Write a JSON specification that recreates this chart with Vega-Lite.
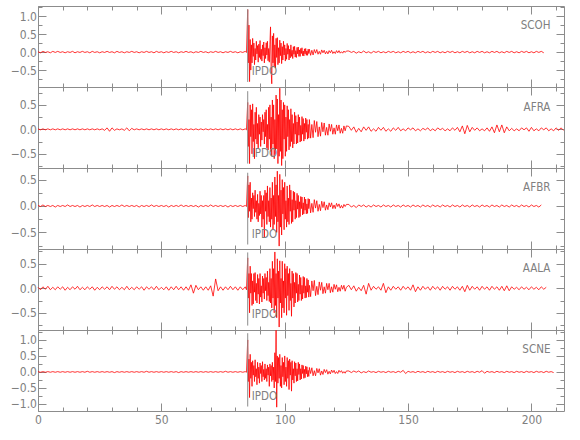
{
"$schema":"https://vega.github.io/schema/vega-lite/v6.json",
"autosize":{"type":"pad"},
"padding":0,
"background":"white",
"spacing":0,
"bounds":"flush",
"datasets":{
"picks":[{"phase":"IPDO","t":85}],
"traces":[
{"t":0,"SCOH":0.01,"AFRA":0.01,"AFBR":0.01,"AALA":0.02,"SCNE":0.01},
{"t":1,"SCOH":-0.02,"AFRA":-0.01,"AFBR":-0.01,"AALA":-0.03,"SCNE":-0.01},
{"t":2,"SCOH":0.02,"AFRA":0.01,"AFBR":0.02,"AALA":0.03,"SCNE":0.01},
{"t":3,"SCOH":-0.01,"AFRA":-0.01,"AFBR":-0.01,"AALA":-0.02,"SCNE":-0.01},
{"t":4,"SCOH":0.01,"AFRA":0.01,"AFBR":0.01,"AALA":0.04,"SCNE":0.01},
{"t":5,"SCOH":-0.02,"AFRA":-0.01,"AFBR":-0.01,"AALA":-0.03,"SCNE":-0.01},
{"t":6,"SCOH":0.02,"AFRA":0.01,"AFBR":0.01,"AALA":0.02,"SCNE":0.01},
{"t":7,"SCOH":-0.01,"AFRA":-0.01,"AFBR":-0.02,"AALA":-0.03,"SCNE":-0.01},
{"t":8,"SCOH":0.02,"AFRA":0.01,"AFBR":0.01,"AALA":0.03,"SCNE":0.01},
{"t":9,"SCOH":-0.01,"AFRA":-0.01,"AFBR":-0.01,"AALA":-0.02,"SCNE":-0.01},
{"t":10,"SCOH":0.01,"AFRA":0.01,"AFBR":0.01,"AALA":0.03,"SCNE":0.01},
{"t":11,"SCOH":-0.02,"AFRA":-0.01,"AFBR":-0.01,"AALA":-0.04,"SCNE":-0.01},
{"t":12,"SCOH":0.01,"AFRA":0.01,"AFBR":0.02,"AALA":0.02,"SCNE":0.01},
{"t":13,"SCOH":-0.01,"AFRA":-0.01,"AFBR":-0.01,"AALA":-0.03,"SCNE":-0.01},
{"t":14,"SCOH":0.02,"AFRA":0.01,"AFBR":0.01,"AALA":0.03,"SCNE":0.01},
{"t":15,"SCOH":-0.02,"AFRA":-0.01,"AFBR":-0.01,"AALA":-0.02,"SCNE":-0.01},
{"t":16,"SCOH":0.01,"AFRA":0.01,"AFBR":0.01,"AALA":0.04,"SCNE":0.01},
{"t":17,"SCOH":-0.01,"AFRA":-0.01,"AFBR":-0.02,"AALA":-0.03,"SCNE":-0.01},
{"t":18,"SCOH":0.02,"AFRA":0.01,"AFBR":0.01,"AALA":0.02,"SCNE":0.01},
{"t":19,"SCOH":-0.01,"AFRA":-0.01,"AFBR":-0.01,"AALA":-0.03,"SCNE":-0.01},
{"t":20,"SCOH":0.01,"AFRA":0.01,"AFBR":0.01,"AALA":0.03,"SCNE":0.02},
{"t":21,"SCOH":-0.02,"AFRA":-0.01,"AFBR":-0.01,"AALA":-0.02,"SCNE":-0.01},
{"t":22,"SCOH":0.02,"AFRA":0.01,"AFBR":0.02,"AALA":0.03,"SCNE":0.01},
{"t":23,"SCOH":-0.01,"AFRA":-0.01,"AFBR":-0.01,"AALA":-0.04,"SCNE":-0.01},
{"t":24,"SCOH":0.01,"AFRA":0.01,"AFBR":0.01,"AALA":0.02,"SCNE":0.01},
{"t":25,"SCOH":-0.02,"AFRA":-0.01,"AFBR":-0.01,"AALA":-0.03,"SCNE":-0.01},
{"t":26,"SCOH":0.01,"AFRA":0.01,"AFBR":0.01,"AALA":0.03,"SCNE":0.01},
{"t":27,"SCOH":-0.01,"AFRA":-0.02,"AFBR":-0.01,"AALA":-0.02,"SCNE":-0.01},
{"t":28,"SCOH":0.02,"AFRA":0.03,"AFBR":0.01,"AALA":0.03,"SCNE":0.01},
{"t":29,"SCOH":-0.01,"AFRA":-0.04,"AFBR":-0.02,"AALA":-0.03,"SCNE":-0.01},
{"t":30,"SCOH":0.01,"AFRA":0.03,"AFBR":0.01,"AALA":0.04,"SCNE":0.01},
{"t":31,"SCOH":-0.02,"AFRA":-0.02,"AFBR":-0.01,"AALA":-0.02,"SCNE":-0.02},
{"t":32,"SCOH":0.02,"AFRA":0.01,"AFBR":0.01,"AALA":0.03,"SCNE":0.01},
{"t":33,"SCOH":-0.01,"AFRA":-0.01,"AFBR":-0.01,"AALA":-0.03,"SCNE":-0.01},
{"t":34,"SCOH":0.01,"AFRA":0.01,"AFBR":0.02,"AALA":0.02,"SCNE":0.01},
{"t":35,"SCOH":-0.02,"AFRA":-0.02,"AFBR":-0.01,"AALA":-0.03,"SCNE":-0.01},
{"t":36,"SCOH":0.01,"AFRA":0.03,"AFBR":0.01,"AALA":0.04,"SCNE":0.01},
{"t":37,"SCOH":-0.01,"AFRA":-0.03,"AFBR":-0.01,"AALA":-0.03,"SCNE":-0.01},
{"t":38,"SCOH":0.02,"AFRA":0.02,"AFBR":0.01,"AALA":0.02,"SCNE":0.01},
{"t":39,"SCOH":-0.01,"AFRA":-0.01,"AFBR":-0.01,"AALA":-0.03,"SCNE":-0.01},
{"t":40,"SCOH":0.01,"AFRA":0.01,"AFBR":0.01,"AALA":0.03,"SCNE":0.01},
{"t":41,"SCOH":-0.02,"AFRA":-0.01,"AFBR":-0.02,"AALA":-0.02,"SCNE":-0.01},
{"t":42,"SCOH":0.01,"AFRA":0.01,"AFBR":0.01,"AALA":0.03,"SCNE":0.01},
{"t":43,"SCOH":-0.01,"AFRA":-0.01,"AFBR":-0.01,"AALA":-0.04,"SCNE":-0.01},
{"t":44,"SCOH":0.02,"AFRA":0.01,"AFBR":0.01,"AALA":0.03,"SCNE":0.02},
{"t":45,"SCOH":-0.01,"AFRA":-0.01,"AFBR":-0.01,"AALA":-0.02,"SCNE":-0.01},
{"t":46,"SCOH":0.01,"AFRA":0.01,"AFBR":0.02,"AALA":0.03,"SCNE":0.01},
{"t":47,"SCOH":-0.02,"AFRA":-0.01,"AFBR":-0.01,"AALA":-0.03,"SCNE":-0.01},
{"t":48,"SCOH":0.02,"AFRA":0.01,"AFBR":0.01,"AALA":0.04,"SCNE":0.01},
{"t":49,"SCOH":-0.01,"AFRA":-0.01,"AFBR":-0.01,"AALA":-0.03,"SCNE":-0.01},
{"t":50,"SCOH":0.01,"AFRA":0.01,"AFBR":0.01,"AALA":0.02,"SCNE":0.01},
{"t":51,"SCOH":-0.02,"AFRA":-0.01,"AFBR":-0.01,"AALA":-0.03,"SCNE":-0.01},
{"t":52,"SCOH":0.01,"AFRA":0.01,"AFBR":0.01,"AALA":0.03,"SCNE":0.01},
{"t":53,"SCOH":-0.01,"AFRA":-0.01,"AFBR":-0.02,"AALA":-0.04,"SCNE":-0.01},
{"t":54,"SCOH":0.02,"AFRA":0.01,"AFBR":0.01,"AALA":0.03,"SCNE":0.01},
{"t":55,"SCOH":-0.01,"AFRA":-0.01,"AFBR":-0.01,"AALA":-0.03,"SCNE":-0.01},
{"t":56,"SCOH":0.01,"AFRA":0.01,"AFBR":0.01,"AALA":0.04,"SCNE":0.01},
{"t":57,"SCOH":-0.02,"AFRA":-0.01,"AFBR":-0.01,"AALA":-0.03,"SCNE":-0.02},
{"t":58,"SCOH":0.01,"AFRA":0.01,"AFBR":0.02,"AALA":0.03,"SCNE":0.01},
{"t":59,"SCOH":-0.01,"AFRA":-0.01,"AFBR":-0.01,"AALA":-0.04,"SCNE":-0.01},
{"t":60,"SCOH":0.02,"AFRA":0.01,"AFBR":0.01,"AALA":0.03,"SCNE":0.01},
{"t":61,"SCOH":-0.01,"AFRA":-0.01,"AFBR":-0.01,"AALA":-0.04,"SCNE":-0.01},
{"t":62,"SCOH":0.01,"AFRA":0.01,"AFBR":0.01,"AALA":0.07,"SCNE":0.01},
{"t":63,"SCOH":-0.02,"AFRA":-0.01,"AFBR":-0.01,"AALA":-0.1,"SCNE":-0.01},
{"t":64,"SCOH":0.01,"AFRA":0.01,"AFBR":0.01,"AALA":0.06,"SCNE":0.01},
{"t":65,"SCOH":-0.01,"AFRA":-0.01,"AFBR":-0.02,"AALA":-0.03,"SCNE":-0.01},
{"t":66,"SCOH":0.02,"AFRA":0.01,"AFBR":0.01,"AALA":0.03,"SCNE":0.01},
{"t":67,"SCOH":-0.01,"AFRA":-0.01,"AFBR":-0.01,"AALA":-0.04,"SCNE":-0.01},
{"t":68,"SCOH":0.01,"AFRA":0.01,"AFBR":0.01,"AALA":0.03,"SCNE":0.01},
{"t":69,"SCOH":-0.02,"AFRA":-0.01,"AFBR":-0.01,"AALA":-0.04,"SCNE":-0.01},
{"t":70,"SCOH":0.01,"AFRA":0.01,"AFBR":0.02,"AALA":0.05,"SCNE":0.01},
{"t":71,"SCOH":-0.01,"AFRA":-0.01,"AFBR":-0.01,"AALA":-0.16,"SCNE":-0.01},
{"t":72,"SCOH":0.02,"AFRA":0.01,"AFBR":0.01,"AALA":0.19,"SCNE":0.01},
{"t":73,"SCOH":-0.01,"AFRA":-0.01,"AFBR":-0.01,"AALA":-0.05,"SCNE":-0.01},
{"t":74,"SCOH":0.01,"AFRA":0.01,"AFBR":0.01,"AALA":0.03,"SCNE":0.01},
{"t":75,"SCOH":-0.02,"AFRA":-0.01,"AFBR":-0.01,"AALA":-0.04,"SCNE":-0.01},
{"t":76,"SCOH":0.01,"AFRA":0.01,"AFBR":0.01,"AALA":0.03,"SCNE":0.02},
{"t":77,"SCOH":-0.01,"AFRA":-0.01,"AFBR":-0.02,"AALA":-0.03,"SCNE":-0.01},
{"t":78,"SCOH":0.02,"AFRA":0.01,"AFBR":0.01,"AALA":0.04,"SCNE":0.01},
{"t":79,"SCOH":-0.01,"AFRA":-0.01,"AFBR":-0.01,"AALA":-0.03,"SCNE":-0.01},
{"t":80,"SCOH":0.01,"AFRA":0.01,"AFBR":0.01,"AALA":0.03,"SCNE":0.01},
{"t":81,"SCOH":-0.02,"AFRA":-0.01,"AFBR":-0.01,"AALA":-0.04,"SCNE":-0.01},
{"t":82,"SCOH":0.01,"AFRA":0.01,"AFBR":0.01,"AALA":0.03,"SCNE":0.01},
{"t":83,"SCOH":-0.01,"AFRA":-0.01,"AFBR":-0.01,"AALA":-0.03,"SCNE":-0.01},
{"t":84,"SCOH":0.02,"AFRA":0.01,"AFBR":0.01,"AALA":0.03,"SCNE":0.01},
{"t":84.5,"SCOH":-0.01,"AFRA":-0.01,"AFBR":-0.01,"AALA":-0.03,"SCNE":-0.01},
{"t":85,"SCOH":1.18,"AFRA":0.55,"AFBR":0.57,"AALA":0.62,"SCNE":1.0},
{"t":85.25,"SCOH":-0.3,"AFRA":-0.35,"AFBR":-0.22,"AALA":-0.2,"SCNE":-0.3},
{"t":85.5,"SCOH":0.75,"AFRA":0.2,"AFBR":0.4,"AALA":0.3,"SCNE":0.4},
{"t":85.75,"SCOH":-0.82,"AFRA":-0.7,"AFBR":-0.1,"AALA":-0.5,"SCNE":-0.8},
{"t":86,"SCOH":0.35,"AFRA":0.5,"AFBR":0.45,"AALA":0.45,"SCNE":0.55},
{"t":86.25,"SCOH":-0.5,"AFRA":-0.15,"AFBR":-0.3,"AALA":-0.1,"SCNE":-0.2},
{"t":86.5,"SCOH":0.2,"AFRA":0.4,"AFBR":0.15,"AALA":0.3,"SCNE":0.3},
{"t":86.75,"SCOH":-0.3,"AFRA":-0.5,"AFBR":-0.25,"AALA":-0.35,"SCNE":-0.45},
{"t":87,"SCOH":0.38,"AFRA":0.52,"AFBR":0.25,"AALA":0.15,"SCNE":0.35},
{"t":87.25,"SCOH":-0.12,"AFRA":-0.25,"AFBR":-0.05,"AALA":-0.32,"SCNE":-0.1},
{"t":87.5,"SCOH":0.25,"AFRA":0.1,"AFBR":0.2,"AALA":0.3,"SCNE":0.2},
{"t":87.75,"SCOH":-0.35,"AFRA":-0.6,"AFBR":-0.2,"AALA":-0.08,"SCNE":-0.3},
{"t":88,"SCOH":0.1,"AFRA":0.35,"AFBR":0.3,"AALA":0.32,"SCNE":0.38},
{"t":88.25,"SCOH":-0.22,"AFRA":-0.2,"AFBR":-0.12,"AALA":-0.25,"SCNE":-0.15},
{"t":88.5,"SCOH":0.3,"AFRA":0.45,"AFBR":0.1,"AALA":0.1,"SCNE":0.1},
{"t":88.75,"SCOH":-0.05,"AFRA":-0.3,"AFBR":-0.25,"AALA":-0.3,"SCNE":-0.4},
{"t":89,"SCOH":0.18,"AFRA":0.12,"AFBR":0.22,"AALA":0.28,"SCNE":0.3},
{"t":89.25,"SCOH":-0.28,"AFRA":-0.38,"AFBR":-0.3,"AALA":-0.12,"SCNE":-0.2},
{"t":89.5,"SCOH":0.22,"AFRA":0.3,"AFBR":0.05,"AALA":0.2,"SCNE":0.15},
{"t":89.75,"SCOH":-0.15,"AFRA":-0.1,"AFBR":-0.18,"AALA":-0.32,"SCNE":-0.35},
{"t":90,"SCOH":0.32,"AFRA":0.25,"AFBR":0.28,"AALA":0.3,"SCNE":0.28},
{"t":90.25,"SCOH":-0.2,"AFRA":-0.35,"AFBR":-0.15,"AALA":-0.18,"SCNE":-0.05},
{"t":90.5,"SCOH":0.08,"AFRA":0.15,"AFBR":0.2,"AALA":0.05,"SCNE":0.2},
{"t":90.75,"SCOH":-0.25,"AFRA":-0.22,"AFBR":-0.4,"AALA":-0.28,"SCNE":-0.3},
{"t":91,"SCOH":0.2,"AFRA":0.3,"AFBR":0.1,"AALA":0.25,"SCNE":0.32},
{"t":91.25,"SCOH":-0.1,"AFRA":-0.05,"AFBR":-0.25,"AALA":-0.1,"SCNE":-0.15},
{"t":91.5,"SCOH":0.28,"AFRA":0.2,"AFBR":0.2,"AALA":0.2,"SCNE":0.08},
{"t":91.75,"SCOH":-0.3,"AFRA":-0.3,"AFBR":-0.6,"AALA":-0.22,"SCNE":-0.25},
{"t":92,"SCOH":0.12,"AFRA":0.35,"AFBR":0.3,"AALA":0.3,"SCNE":0.25},
{"t":92.25,"SCOH":-0.18,"AFRA":-0.15,"AFBR":-0.1,"AALA":-0.05,"SCNE":-0.2},
{"t":92.5,"SCOH":0.26,"AFRA":0.4,"AFBR":0.25,"AALA":0.22,"SCNE":0.1},
{"t":92.75,"SCOH":-0.08,"AFRA":-0.38,"AFBR":-0.35,"AALA":-0.25,"SCNE":-0.3},
{"t":93,"SCOH":0.3,"AFRA":0.1,"AFBR":0.38,"AALA":0.35,"SCNE":0.22},
{"t":93.25,"SCOH":-0.24,"AFRA":-0.42,"AFBR":-0.2,"AALA":-0.15,"SCNE":-0.1},
{"t":93.5,"SCOH":0.1,"AFRA":0.45,"AFBR":0.1,"AALA":0.12,"SCNE":0.15},
{"t":93.75,"SCOH":-0.28,"AFRA":-0.2,"AFBR":-0.3,"AALA":-0.27,"SCNE":-0.45},
{"t":94,"SCOH":0.22,"AFRA":0.5,"AFBR":0.35,"AALA":0.4,"SCNE":0.25},
{"t":94.25,"SCOH":0.7,"AFRA":-0.45,"AFBR":-0.4,"AALA":-0.3,"SCNE":-0.12},
{"t":94.5,"SCOH":-0.5,"AFRA":0.25,"AFBR":0.15,"AALA":0.2,"SCNE":0.2},
{"t":94.75,"SCOH":-0.88,"AFRA":-0.55,"AFBR":-0.25,"AALA":-0.4,"SCNE":-0.3},
{"t":95,"SCOH":0.45,"AFRA":0.6,"AFBR":0.45,"AALA":0.55,"SCNE":0.3},
{"t":95.25,"SCOH":-0.3,"AFRA":-0.3,"AFBR":-0.45,"AALA":-0.2,"SCNE":-0.25},
{"t":95.5,"SCOH":0.52,"AFRA":0.5,"AFBR":0.2,"AALA":0.4,"SCNE":0.15},
{"t":95.75,"SCOH":-0.4,"AFRA":-0.6,"AFBR":-0.35,"AALA":-0.5,"SCNE":-0.5},
{"t":96,"SCOH":0.2,"AFRA":0.2,"AFBR":0.55,"AALA":0.74,"SCNE":0.6},
{"t":96.25,"SCOH":-0.45,"AFRA":-0.5,"AFBR":-0.2,"AALA":-0.35,"SCNE":-0.3},
{"t":96.5,"SCOH":0.38,"AFRA":0.7,"AFBR":0.4,"AALA":0.3,"SCNE":1.3},
{"t":96.75,"SCOH":-0.15,"AFRA":-0.4,"AFBR":-0.5,"AALA":-0.6,"SCNE":-1.1},
{"t":97,"SCOH":0.4,"AFRA":0.62,"AFBR":0.66,"AALA":0.6,"SCNE":0.5},
{"t":97.25,"SCOH":-0.35,"AFRA":-0.7,"AFBR":-0.3,"AALA":-0.2,"SCNE":-0.35},
{"t":97.5,"SCOH":0.12,"AFRA":0.3,"AFBR":0.2,"AALA":0.35,"SCNE":0.45},
{"t":97.75,"SCOH":-0.3,"AFRA":-0.55,"AFBR":-0.76,"AALA":-0.79,"SCNE":-0.2},
{"t":98,"SCOH":0.33,"AFRA":0.84,"AFBR":0.6,"AALA":0.56,"SCNE":0.55},
{"t":98.25,"SCOH":-0.1,"AFRA":-0.45,"AFBR":-0.4,"AALA":-0.3,"SCNE":-0.45},
{"t":98.5,"SCOH":0.25,"AFRA":0.6,"AFBR":0.3,"AALA":0.2,"SCNE":0.2},
{"t":98.75,"SCOH":-0.32,"AFRA":-0.74,"AFBR":-0.55,"AALA":-0.6,"SCNE":-0.5},
{"t":99,"SCOH":0.15,"AFRA":0.4,"AFBR":0.5,"AALA":0.55,"SCNE":0.45},
{"t":99.25,"SCOH":-0.22,"AFRA":-0.6,"AFBR":-0.15,"AALA":-0.4,"SCNE":-0.15},
{"t":99.5,"SCOH":0.3,"AFRA":0.55,"AFBR":0.35,"AALA":0.15,"SCNE":0.3},
{"t":99.75,"SCOH":-0.08,"AFRA":-0.2,"AFBR":-0.45,"AALA":-0.5,"SCNE":-0.4},
{"t":100,"SCOH":0.2,"AFRA":0.5,"AFBR":0.45,"AALA":0.5,"SCNE":0.5},
{"t":100.25,"SCOH":-0.25,"AFRA":-0.55,"AFBR":-0.25,"AALA":-0.2,"SCNE":-0.3},
{"t":100.5,"SCOH":0.1,"AFRA":0.25,"AFBR":0.1,"AALA":0.4,"SCNE":0.15},
{"t":100.75,"SCOH":-0.2,"AFRA":-0.45,"AFBR":-0.4,"AALA":-0.55,"SCNE":-0.45},
{"t":101,"SCOH":0.24,"AFRA":0.48,"AFBR":0.38,"AALA":0.45,"SCNE":0.45},
{"t":101.25,"SCOH":-0.06,"AFRA":-0.15,"AFBR":-0.3,"AALA":-0.15,"SCNE":-0.2},
{"t":101.5,"SCOH":0.18,"AFRA":0.4,"AFBR":0.15,"AALA":0.3,"SCNE":0.35},
{"t":101.75,"SCOH":-0.22,"AFRA":-0.42,"AFBR":-0.35,"AALA":-0.45,"SCNE":-0.55},
{"t":102,"SCOH":0.08,"AFRA":0.2,"AFBR":0.4,"AALA":0.4,"SCNE":0.4},
{"t":102.25,"SCOH":-0.16,"AFRA":-0.35,"AFBR":-0.1,"AALA":-0.25,"SCNE":-0.1},
{"t":102.5,"SCOH":0.2,"AFRA":0.42,"AFBR":0.3,"AALA":0.1,"SCNE":0.3},
{"t":102.75,"SCOH":-0.12,"AFRA":-0.25,"AFBR":-0.33,"AALA":-0.57,"SCNE":-0.6},
{"t":103,"SCOH":0.05,"AFRA":0.3,"AFBR":0.12,"AALA":0.35,"SCNE":0.35},
{"t":103.25,"SCOH":-0.18,"AFRA":-0.38,"AFBR":-0.3,"AALA":-0.2,"SCNE":-0.25},
{"t":103.5,"SCOH":0.15,"AFRA":0.12,"AFBR":0.28,"AALA":0.3,"SCNE":0.1},
{"t":103.75,"SCOH":-0.06,"AFRA":-0.3,"AFBR":-0.08,"AALA":-0.38,"SCNE":-0.35},
{"t":104,"SCOH":0.16,"AFRA":0.35,"AFBR":0.26,"AALA":0.12,"SCNE":0.32},
{"t":104.25,"SCOH":-0.14,"AFRA":-0.1,"AFBR":-0.25,"AALA":-0.3,"SCNE":-0.12},
{"t":104.5,"SCOH":0.04,"AFRA":0.28,"AFBR":0.1,"AALA":0.32,"SCNE":0.28},
{"t":104.75,"SCOH":-0.15,"AFRA":-0.3,"AFBR":-0.22,"AALA":-0.1,"SCNE":-0.3},
{"t":105,"SCOH":0.13,"AFRA":0.15,"AFBR":0.24,"AALA":0.3,"SCNE":0.1},
{"t":105.25,"SCOH":-0.05,"AFRA":-0.28,"AFBR":-0.06,"AALA":-0.28,"SCNE":-0.28},
{"t":105.5,"SCOH":0.14,"AFRA":0.3,"AFBR":0.2,"AALA":0.08,"SCNE":0.3},
{"t":105.75,"SCOH":-0.12,"AFRA":-0.12,"AFBR":-0.22,"AALA":-0.25,"SCNE":-0.08},
{"t":106,"SCOH":0.06,"AFRA":0.25,"AFBR":0.08,"AALA":0.27,"SCNE":0.25},
{"t":106.25,"SCOH":-0.12,"AFRA":-0.26,"AFBR":-0.2,"AALA":-0.12,"SCNE":-0.25},
{"t":106.5,"SCOH":0.1,"AFRA":0.08,"AFBR":0.18,"AALA":0.22,"SCNE":0.1},
{"t":106.75,"SCOH":-0.04,"AFRA":-0.24,"AFBR":-0.05,"AALA":-0.25,"SCNE":-0.22},
{"t":107,"SCOH":0.12,"AFRA":0.26,"AFBR":0.17,"AALA":0.06,"SCNE":0.22},
{"t":107.25,"SCOH":-0.1,"AFRA":-0.1,"AFBR":-0.17,"AALA":-0.22,"SCNE":-0.05},
{"t":107.5,"SCOH":0.03,"AFRA":0.22,"AFBR":0.06,"AALA":0.24,"SCNE":0.2},
{"t":107.75,"SCOH":-0.11,"AFRA":-0.24,"AFBR":-0.15,"AALA":-0.1,"SCNE":-0.2},
{"t":108,"SCOH":0.09,"AFRA":0.12,"AFBR":0.17,"AALA":0.22,"SCNE":0.08},
{"t":108.25,"SCOH":-0.05,"AFRA":-0.2,"AFBR":-0.08,"AALA":-0.2,"SCNE":-0.18},
{"t":108.5,"SCOH":0.1,"AFRA":0.23,"AFBR":0.13,"AALA":0.05,"SCNE":0.18},
{"t":108.75,"SCOH":-0.09,"AFRA":-0.06,"AFBR":-0.15,"AALA":-0.19,"SCNE":-0.06},
{"t":109,"SCOH":0.03,"AFRA":0.2,"AFBR":0.04,"AALA":0.2,"SCNE":0.16},
{"t":109.25,"SCOH":-0.09,"AFRA":-0.2,"AFBR":-0.14,"AALA":-0.08,"SCNE":-0.15},
{"t":109.5,"SCOH":0.08,"AFRA":0.1,"AFBR":0.14,"AALA":0.17,"SCNE":0.05},
{"t":109.75,"SCOH":-0.04,"AFRA":-0.18,"AFBR":-0.05,"AALA":-0.18,"SCNE":-0.14},
{"t":110,"SCOH":0.08,"AFRA":0.2,"AFBR":0.13,"AALA":0.06,"SCNE":0.14},
{"t":110.5,"SCOH":-0.09,"AFRA":-0.18,"AFBR":-0.13,"AALA":-0.17,"SCNE":-0.05},
{"t":111,"SCOH":0.05,"AFRA":0.1,"AFBR":0.05,"AALA":0.15,"SCNE":0.13},
{"t":111.5,"SCOH":-0.08,"AFRA":-0.17,"AFBR":-0.12,"AALA":-0.05,"SCNE":-0.12},
{"t":112,"SCOH":0.07,"AFRA":0.18,"AFBR":0.12,"AALA":0.16,"SCNE":0.04},
{"t":112.5,"SCOH":-0.03,"AFRA":-0.06,"AFBR":-0.04,"AALA":-0.15,"SCNE":-0.12},
{"t":113,"SCOH":0.07,"AFRA":0.16,"AFBR":0.1,"AALA":0.04,"SCNE":0.11},
{"t":113.5,"SCOH":-0.06,"AFRA":-0.15,"AFBR":-0.1,"AALA":-0.13,"SCNE":-0.03},
{"t":114,"SCOH":0.02,"AFRA":0.05,"AFBR":0.03,"AALA":0.13,"SCNE":0.1},
{"t":114.5,"SCOH":-0.06,"AFRA":-0.14,"AFBR":-0.09,"AALA":-0.04,"SCNE":-0.1},
{"t":115,"SCOH":0.06,"AFRA":0.14,"AFBR":0.09,"AALA":0.12,"SCNE":0.03},
{"t":115.5,"SCOH":-0.02,"AFRA":-0.05,"AFBR":-0.03,"AALA":-0.11,"SCNE":-0.08},
{"t":116,"SCOH":0.05,"AFRA":0.13,"AFBR":0.08,"AALA":0.03,"SCNE":0.08},
{"t":116.5,"SCOH":-0.05,"AFRA":-0.12,"AFBR":-0.08,"AALA":-0.1,"SCNE":-0.02},
{"t":117,"SCOH":0.02,"AFRA":0.04,"AFBR":0.02,"AALA":0.1,"SCNE":0.07},
{"t":117.5,"SCOH":-0.05,"AFRA":-0.12,"AFBR":-0.07,"AALA":-0.03,"SCNE":-0.07},
{"t":118,"SCOH":0.04,"AFRA":0.11,"AFBR":0.06,"AALA":0.1,"SCNE":0.02},
{"t":118.5,"SCOH":-0.02,"AFRA":-0.04,"AFBR":-0.02,"AALA":-0.09,"SCNE":-0.06},
{"t":119,"SCOH":0.05,"AFRA":0.1,"AFBR":0.06,"AALA":0.03,"SCNE":0.06},
{"t":119.5,"SCOH":-0.04,"AFRA":-0.1,"AFBR":-0.05,"AALA":-0.08,"SCNE":-0.02},
{"t":120,"SCOH":0.01,"AFRA":0.03,"AFBR":0.02,"AALA":0.08,"SCNE":0.05},
{"t":120.5,"SCOH":-0.04,"AFRA":-0.1,"AFBR":-0.05,"AALA":-0.02,"SCNE":-0.05},
{"t":121,"SCOH":0.04,"AFRA":0.09,"AFBR":0.05,"AALA":0.07,"SCNE":0.01},
{"t":121.5,"SCOH":-0.02,"AFRA":-0.03,"AFBR":-0.01,"AALA":-0.07,"SCNE":-0.05},
{"t":122,"SCOH":0.04,"AFRA":0.09,"AFBR":0.04,"AALA":0.02,"SCNE":0.05},
{"t":122.5,"SCOH":-0.03,"AFRA":-0.08,"AFBR":-0.04,"AALA":-0.06,"SCNE":-0.01},
{"t":123,"SCOH":0.01,"AFRA":0.02,"AFBR":0.01,"AALA":0.06,"SCNE":0.04},
{"t":123.5,"SCOH":-0.03,"AFRA":-0.08,"AFBR":-0.04,"AALA":-0.02,"SCNE":-0.04},
{"t":124,"SCOH":0.03,"AFRA":0.07,"AFBR":0.03,"AALA":0.06,"SCNE":0.01},
{"t":124.5,"SCOH":-0.01,"AFRA":-0.03,"AFBR":-0.01,"AALA":-0.06,"SCNE":-0.04},
{"t":125,"SCOH":0.03,"AFRA":0.07,"AFBR":0.03,"AALA":0.02,"SCNE":0.03},
{"t":126,"SCOH":0.03,"AFRA":0.06,"AFBR":0.03,"AALA":0.06,"SCNE":0.03},
{"t":127,"SCOH":-0.01,"AFRA":-0.02,"AFBR":-0.02,"AALA":-0.03,"SCNE":-0.02},
{"t":128,"SCOH":0.02,"AFRA":0.05,"AFBR":0.01,"AALA":0.05,"SCNE":0.03},
{"t":129,"SCOH":-0.03,"AFRA":-0.06,"AFBR":-0.03,"AALA":-0.06,"SCNE":-0.01},
{"t":130,"SCOH":0.01,"AFRA":0.02,"AFBR":0.02,"AALA":0.02,"SCNE":0.03},
{"t":131,"SCOH":-0.02,"AFRA":-0.05,"AFBR":-0.01,"AALA":-0.05,"SCNE":-0.03},
{"t":132,"SCOH":0.03,"AFRA":0.05,"AFBR":0.02,"AALA":0.06,"SCNE":0.01},
{"t":133,"SCOH":-0.02,"AFRA":-0.02,"AFBR":-0.02,"AALA":-0.12,"SCNE":-0.02},
{"t":134,"SCOH":0.01,"AFRA":0.05,"AFBR":0.01,"AALA":0.1,"SCNE":0.03},
{"t":135,"SCOH":-0.03,"AFRA":-0.04,"AFBR":-0.02,"AALA":-0.04,"SCNE":-0.01},
{"t":136,"SCOH":0.02,"AFRA":0.01,"AFBR":0.02,"AALA":0.04,"SCNE":0.01},
{"t":137,"SCOH":-0.01,"AFRA":-0.04,"AFBR":-0.01,"AALA":-0.02,"SCNE":-0.02},
{"t":138,"SCOH":0.02,"AFRA":0.04,"AFBR":0.01,"AALA":0.03,"SCNE":0.02},
{"t":139,"SCOH":-0.02,"AFRA":-0.02,"AFBR":-0.02,"AALA":-0.04,"SCNE":-0.01},
{"t":140,"SCOH":0.01,"AFRA":0.04,"AFBR":0.02,"AALA":0.1,"SCNE":0.01},
{"t":141,"SCOH":-0.02,"AFRA":-0.04,"AFBR":-0.01,"AALA":-0.09,"SCNE":-0.02},
{"t":142,"SCOH":0.02,"AFRA":0.01,"AFBR":0.01,"AALA":0.03,"SCNE":0.02},
{"t":143,"SCOH":-0.01,"AFRA":-0.04,"AFBR":-0.02,"AALA":-0.04,"SCNE":-0.01},
{"t":144,"SCOH":0.02,"AFRA":0.03,"AFBR":0.02,"AALA":0.04,"SCNE":0.01},
{"t":145,"SCOH":-0.02,"AFRA":-0.02,"AFBR":-0.01,"AALA":-0.02,"SCNE":-0.02},
{"t":146,"SCOH":0.01,"AFRA":0.04,"AFBR":0.01,"AALA":0.03,"SCNE":0.02},
{"t":147,"SCOH":-0.02,"AFRA":-0.03,"AFBR":-0.02,"AALA":-0.04,"SCNE":-0.01},
{"t":148,"SCOH":0.02,"AFRA":0.01,"AFBR":0.02,"AALA":0.04,"SCNE":0.05},
{"t":149,"SCOH":-0.01,"AFRA":-0.03,"AFBR":-0.01,"AALA":-0.02,"SCNE":-0.05},
{"t":150,"SCOH":0.02,"AFRA":0.03,"AFBR":0.01,"AALA":0.03,"SCNE":0.02},
{"t":151,"SCOH":-0.02,"AFRA":-0.01,"AFBR":-0.02,"AALA":-0.04,"SCNE":-0.01},
{"t":152,"SCOH":0.01,"AFRA":0.03,"AFBR":0.02,"AALA":0.07,"SCNE":0.01},
{"t":153,"SCOH":-0.02,"AFRA":-0.03,"AFBR":-0.01,"AALA":-0.07,"SCNE":-0.02},
{"t":154,"SCOH":0.02,"AFRA":0.01,"AFBR":0.01,"AALA":0.03,"SCNE":0.02},
{"t":155,"SCOH":-0.01,"AFRA":-0.03,"AFBR":-0.02,"AALA":-0.04,"SCNE":-0.01},
{"t":156,"SCOH":0.02,"AFRA":0.02,"AFBR":0.02,"AALA":0.04,"SCNE":0.01},
{"t":157,"SCOH":-0.02,"AFRA":-0.01,"AFBR":-0.01,"AALA":-0.02,"SCNE":-0.02},
{"t":158,"SCOH":0.01,"AFRA":0.03,"AFBR":0.01,"AALA":0.03,"SCNE":0.02},
{"t":159,"SCOH":-0.02,"AFRA":-0.03,"AFBR":-0.02,"AALA":-0.04,"SCNE":-0.01},
{"t":160,"SCOH":0.02,"AFRA":0.01,"AFBR":0.02,"AALA":0.04,"SCNE":0.01},
{"t":161,"SCOH":-0.01,"AFRA":-0.03,"AFBR":-0.01,"AALA":-0.02,"SCNE":-0.02},
{"t":162,"SCOH":0.02,"AFRA":0.03,"AFBR":0.01,"AALA":0.03,"SCNE":0.02},
{"t":163,"SCOH":-0.02,"AFRA":-0.01,"AFBR":-0.02,"AALA":-0.04,"SCNE":-0.01},
{"t":164,"SCOH":0.01,"AFRA":0.02,"AFBR":0.02,"AALA":0.04,"SCNE":0.01},
{"t":165,"SCOH":-0.02,"AFRA":-0.03,"AFBR":-0.01,"AALA":-0.02,"SCNE":-0.02},
{"t":166,"SCOH":0.02,"AFRA":0.01,"AFBR":0.01,"AALA":0.03,"SCNE":0.02},
{"t":167,"SCOH":-0.01,"AFRA":-0.03,"AFBR":-0.02,"AALA":-0.04,"SCNE":-0.01},
{"t":168,"SCOH":0.02,"AFRA":0.03,"AFBR":0.02,"AALA":0.04,"SCNE":0.01},
{"t":169,"SCOH":-0.02,"AFRA":-0.02,"AFBR":-0.01,"AALA":-0.02,"SCNE":-0.02},
{"t":170,"SCOH":0.01,"AFRA":0.04,"AFBR":0.01,"AALA":0.03,"SCNE":0.02},
{"t":171,"SCOH":-0.02,"AFRA":-0.05,"AFBR":-0.02,"AALA":-0.04,"SCNE":-0.01},
{"t":172,"SCOH":0.02,"AFRA":0.07,"AFBR":0.02,"AALA":0.04,"SCNE":0.01},
{"t":173,"SCOH":-0.01,"AFRA":-0.09,"AFBR":-0.01,"AALA":-0.07,"SCNE":-0.02},
{"t":174,"SCOH":0.02,"AFRA":0.08,"AFBR":0.01,"AALA":0.06,"SCNE":0.02},
{"t":175,"SCOH":-0.02,"AFRA":-0.05,"AFBR":-0.02,"AALA":-0.04,"SCNE":-0.01},
{"t":176,"SCOH":0.01,"AFRA":0.04,"AFBR":0.02,"AALA":0.04,"SCNE":0.01},
{"t":177,"SCOH":-0.02,"AFRA":-0.02,"AFBR":-0.01,"AALA":-0.02,"SCNE":-0.02},
{"t":178,"SCOH":0.02,"AFRA":0.03,"AFBR":0.01,"AALA":0.03,"SCNE":0.02},
{"t":179,"SCOH":-0.01,"AFRA":-0.03,"AFBR":-0.02,"AALA":-0.04,"SCNE":-0.01},
{"t":180,"SCOH":0.02,"AFRA":0.01,"AFBR":0.02,"AALA":0.04,"SCNE":0.04},
{"t":181,"SCOH":-0.02,"AFRA":-0.03,"AFBR":-0.01,"AALA":-0.02,"SCNE":-0.04},
{"t":182,"SCOH":0.01,"AFRA":0.03,"AFBR":0.01,"AALA":0.03,"SCNE":0.02},
{"t":183,"SCOH":-0.02,"AFRA":-0.04,"AFBR":-0.02,"AALA":-0.04,"SCNE":-0.01},
{"t":184,"SCOH":0.02,"AFRA":0.05,"AFBR":0.02,"AALA":0.04,"SCNE":0.01},
{"t":185,"SCOH":-0.01,"AFRA":-0.07,"AFBR":-0.01,"AALA":-0.02,"SCNE":-0.02},
{"t":186,"SCOH":0.02,"AFRA":0.09,"AFBR":0.01,"AALA":0.03,"SCNE":0.02},
{"t":187,"SCOH":-0.02,"AFRA":-0.05,"AFBR":-0.02,"AALA":-0.04,"SCNE":-0.01},
{"t":188,"SCOH":0.01,"AFRA":0.09,"AFBR":0.02,"AALA":0.04,"SCNE":0.01},
{"t":189,"SCOH":-0.02,"AFRA":-0.07,"AFBR":-0.01,"AALA":-0.05,"SCNE":-0.02},
{"t":190,"SCOH":0.02,"AFRA":0.05,"AFBR":0.01,"AALA":0.05,"SCNE":0.02},
{"t":191,"SCOH":-0.01,"AFRA":-0.03,"AFBR":-0.02,"AALA":-0.05,"SCNE":-0.01},
{"t":192,"SCOH":0.02,"AFRA":0.02,"AFBR":0.02,"AALA":0.03,"SCNE":0.01},
{"t":193,"SCOH":-0.02,"AFRA":-0.03,"AFBR":-0.01,"AALA":-0.02,"SCNE":-0.02},
{"t":194,"SCOH":0.01,"AFRA":0.01,"AFBR":0.01,"AALA":0.02,"SCNE":0.02},
{"t":195,"SCOH":-0.02,"AFRA":-0.03,"AFBR":-0.02,"AALA":-0.03,"SCNE":-0.01},
{"t":196,"SCOH":0.02,"AFRA":0.03,"AFBR":0.02,"AALA":0.03,"SCNE":0.01},
{"t":197,"SCOH":-0.01,"AFRA":-0.01,"AFBR":-0.01,"AALA":-0.02,"SCNE":-0.02},
{"t":198,"SCOH":0.02,"AFRA":0.03,"AFBR":0.01,"AALA":0.02,"SCNE":0.02},
{"t":199,"SCOH":-0.02,"AFRA":-0.04,"AFBR":-0.02,"AALA":-0.03,"SCNE":-0.01},
{"t":200,"SCOH":0.01,"AFRA":0.04,"AFBR":0.02,"AALA":0.03,"SCNE":0.01},
{"t":201,"SCOH":-0.02,"AFRA":-0.03,"AFBR":-0.01,"AALA":-0.02,"SCNE":-0.02},
{"t":202,"SCOH":0.02,"AFRA":0.01,"AFBR":0.01,"AALA":0.02,"SCNE":0.02},
{"t":203,"SCOH":-0.01,"AFRA":-0.03,"AFBR":-0.02,"AALA":-0.03,"SCNE":-0.01},
{"t":204,"SCOH":0.02,"AFRA":0.03,"AFBR":0.02,"AALA":0.03,"SCNE":0.01},
{"t":205,"SCOH":-0.02,"AFRA":-0.01,"AALA":-0.02,"SCNE":-0.02},
{"t":206,"AFRA":0.03,"AALA":0.02,"SCNE":0.02},
{"t":207,"AFRA":-0.03,"SCNE":-0.01},
{"t":208,"AFRA":0.01,"SCNE":0.01},
{"t":209,"AFRA":-0.03,"SCNE":-0.02},
{"t":210,"AFRA":0.03},
{"t":211,"AFRA":-0.02},
{"t":212,"AFRA":0.03},
{"t":213,"AFRA":-0.02}
]},
"data":{"name":"traces"},
"vconcat":[
{"width":526,"height":81,
 "layer":[
  {"mark":{"type":"line","stroke":"#ff0000","strokeWidth":0.8,"clip":false},
   "encoding":{
    "x":{"field":"t","type":"quantitative","title":null,"scale":{"domain":[0,213.2],"nice":false,"zero":false},"axis":{"orient":"bottom","values":[0,50,100,150,200],"tickSize":-8,"labels":false}},
    "y":{"field":"SCOH","type":"quantitative","title":null,"scale":{"domain":[-0.97,1.28],"nice":false,"zero":false},"axis":{"orient":"left","values":[-0.5,0,0.5,1],"tickSize":-8,"format":".1f","labelPadding":9.5,"minExtent":37,"maxExtent":37}}}},
  {"data":{"name":"picks"},"mark":{"type":"rule","stroke":"#8c8c8c","strokeWidth":1},
   "encoding":{
    "x":{"field":"t","type":"quantitative","title":null,"axis":{"orient":"bottom","values":[0,10,20,30,40,50,60,70,80,90,100,110,120,130,140,150,160,170,180,190,200,210],"tickSize":-4,"labels":false}},
    "y":{"datum":1.19,"type":"quantitative","title":null,"axis":{"orient":"left","values":[-0.75,-0.5,-0.25,0,0.25,0.5,0.75,1,1.25],"tickSize":-4,"labels":false}},
    "y2":{"datum":-0.83}}},
  {"data":{"name":"picks"},"mark":{"type":"text","align":"left","baseline":"middle","dx":4},
   "encoding":{
    "x":{"field":"t","type":"quantitative","title":null,"axis":{"orient":"top","values":[0,50,100,150,200],"tickSize":-8,"labels":false,"minExtent":5,"maxExtent":5}},
    "y":{"datum":-0.56,"type":"quantitative","title":null,"axis":{"orient":"right","values":[-0.5,0,0.5,1],"tickSize":-8,"labels":false,"minExtent":17,"maxExtent":17}},
    "text":{"field":"phase"}}},
  {"data":{"values":[{"station":"SCOH"}]},"mark":{"type":"text","align":"right","baseline":"middle"},
   "encoding":{
    "x":{"datum":207.7,"type":"quantitative","title":null,"axis":{"orient":"top","values":[0,10,20,30,40,50,60,70,80,90,100,110,120,130,140,150,160,170,180,190,200,210],"tickSize":-4,"labels":false}},
    "y":{"datum":0.72,"type":"quantitative","title":null,"axis":{"orient":"right","values":[-0.75,-0.5,-0.25,0,0.25,0.5,0.75,1,1.25],"tickSize":-4,"labels":false}},
    "text":{"field":"station"}}}
 ],
 "resolve":{"axis":{"x":"independent","y":"independent"}}},
{"width":526,"height":81,
 "layer":[
  {"mark":{"type":"line","stroke":"#ff0000","strokeWidth":0.8,"clip":false},
   "encoding":{
    "x":{"field":"t","type":"quantitative","title":null,"scale":{"domain":[0,213.2],"nice":false,"zero":false},"axis":{"orient":"bottom","values":[0,50,100,150,200],"tickSize":-8,"labels":false}},
    "y":{"field":"AFRA","type":"quantitative","title":null,"scale":{"domain":[-0.79,0.865],"nice":false,"zero":false},"axis":{"orient":"left","values":[-0.5,0,0.5],"tickSize":-8,"format":".1f","labelPadding":9.5,"minExtent":37,"maxExtent":37}}}},
  {"data":{"name":"picks"},"mark":{"type":"rule","stroke":"#8c8c8c","strokeWidth":1},
   "encoding":{
    "x":{"field":"t","type":"quantitative","title":null,"axis":{"orient":"bottom","values":[0,10,20,30,40,50,60,70,80,90,100,110,120,130,140,150,160,170,180,190,200,210],"tickSize":-4,"labels":false}},
    "y":{"datum":0.78,"type":"quantitative","title":null,"axis":{"orient":"left","values":[-0.75,-0.5,-0.25,0,0.25,0.5,0.75],"tickSize":-4,"labels":false}},
    "y2":{"datum":-0.7}}},
  {"data":{"name":"picks"},"mark":{"type":"text","align":"left","baseline":"middle","dx":4},
   "encoding":{
    "x":{"field":"t","type":"quantitative","title":null,"axis":{"orient":"top","values":[0,50,100,150,200],"tickSize":-8,"labels":false}},
    "y":{"datum":-0.51,"type":"quantitative","title":null,"axis":{"orient":"right","values":[-0.5,0,0.5],"tickSize":-8,"labels":false,"minExtent":17,"maxExtent":17}},
    "text":{"field":"phase"}}},
  {"data":{"values":[{"station":"AFRA"}]},"mark":{"type":"text","align":"right","baseline":"middle"},
   "encoding":{
    "x":{"datum":207.7,"type":"quantitative","title":null,"axis":{"orient":"top","values":[0,10,20,30,40,50,60,70,80,90,100,110,120,130,140,150,160,170,180,190,200,210],"tickSize":-4,"labels":false}},
    "y":{"datum":0.44,"type":"quantitative","title":null,"axis":{"orient":"right","values":[-0.75,-0.5,-0.25,0,0.25,0.5,0.75],"tickSize":-4,"labels":false}},
    "text":{"field":"station"}}}
 ],
 "resolve":{"axis":{"x":"independent","y":"independent"}}},
{"width":526,"height":81,
 "layer":[
  {"mark":{"type":"line","stroke":"#ff0000","strokeWidth":0.8,"clip":false},
   "encoding":{
    "x":{"field":"t","type":"quantitative","title":null,"scale":{"domain":[0,213.2],"nice":false,"zero":false},"axis":{"orient":"bottom","values":[0,50,100,150,200],"tickSize":-8,"labels":false}},
    "y":{"field":"AFBR","type":"quantitative","title":null,"scale":{"domain":[-0.815,0.72],"nice":false,"zero":false},"axis":{"orient":"left","values":[-0.5,0,0.5],"tickSize":-8,"format":".1f","labelPadding":9.5,"minExtent":37,"maxExtent":37}}}},
  {"data":{"name":"picks"},"mark":{"type":"rule","stroke":"#8c8c8c","strokeWidth":1},
   "encoding":{
    "x":{"field":"t","type":"quantitative","title":null,"axis":{"orient":"bottom","values":[0,10,20,30,40,50,60,70,80,90,100,110,120,130,140,150,160,170,180,190,200,210],"tickSize":-4,"labels":false}},
    "y":{"datum":0.63,"type":"quantitative","title":null,"axis":{"orient":"left","values":[-0.75,-0.5,-0.25,0,0.25,0.5],"tickSize":-4,"labels":false}},
    "y2":{"datum":-0.73}}},
  {"data":{"name":"picks"},"mark":{"type":"text","align":"left","baseline":"middle","dx":4},
   "encoding":{
    "x":{"field":"t","type":"quantitative","title":null,"axis":{"orient":"top","values":[0,50,100,150,200],"tickSize":-8,"labels":false}},
    "y":{"datum":-0.55,"type":"quantitative","title":null,"axis":{"orient":"right","values":[-0.5,0,0.5],"tickSize":-8,"labels":false,"minExtent":17,"maxExtent":17}},
    "text":{"field":"phase"}}},
  {"data":{"values":[{"station":"AFBR"}]},"mark":{"type":"text","align":"right","baseline":"middle"},
   "encoding":{
    "x":{"datum":207.7,"type":"quantitative","title":null,"axis":{"orient":"top","values":[0,10,20,30,40,50,60,70,80,90,100,110,120,130,140,150,160,170,180,190,200,210],"tickSize":-4,"labels":false}},
    "y":{"datum":0.34,"type":"quantitative","title":null,"axis":{"orient":"right","values":[-0.75,-0.5,-0.25,0,0.25,0.5],"tickSize":-4,"labels":false}},
    "text":{"field":"station"}}}
 ],
 "resolve":{"axis":{"x":"independent","y":"independent"}}},
{"width":526,"height":81,
 "layer":[
  {"mark":{"type":"line","stroke":"#ff0000","strokeWidth":0.8,"clip":false},
   "encoding":{
    "x":{"field":"t","type":"quantitative","title":null,"scale":{"domain":[0,213.2],"nice":false,"zero":false},"axis":{"orient":"bottom","values":[0,50,100,150,200],"tickSize":-8,"labels":false}},
    "y":{"field":"AALA","type":"quantitative","title":null,"scale":{"domain":[-0.85,0.8],"nice":false,"zero":false},"axis":{"orient":"left","values":[-0.5,0,0.5],"tickSize":-8,"format":".1f","labelPadding":9.5,"minExtent":37,"maxExtent":37}}}},
  {"data":{"name":"picks"},"mark":{"type":"rule","stroke":"#8c8c8c","strokeWidth":1},
   "encoding":{
    "x":{"field":"t","type":"quantitative","title":null,"axis":{"orient":"bottom","values":[0,10,20,30,40,50,60,70,80,90,100,110,120,130,140,150,160,170,180,190,200,210],"tickSize":-4,"labels":false}},
    "y":{"datum":0.73,"type":"quantitative","title":null,"axis":{"orient":"left","values":[-0.75,-0.5,-0.25,0,0.25,0.5,0.75],"tickSize":-4,"labels":false}},
    "y2":{"datum":-0.76}}},
  {"data":{"name":"picks"},"mark":{"type":"text","align":"left","baseline":"middle","dx":4},
   "encoding":{
    "x":{"field":"t","type":"quantitative","title":null,"axis":{"orient":"top","values":[0,50,100,150,200],"tickSize":-8,"labels":false}},
    "y":{"datum":-0.55,"type":"quantitative","title":null,"axis":{"orient":"right","values":[-0.5,0,0.5],"tickSize":-8,"labels":false,"minExtent":17,"maxExtent":17}},
    "text":{"field":"phase"}}},
  {"data":{"values":[{"station":"AALA"}]},"mark":{"type":"text","align":"right","baseline":"middle"},
   "encoding":{
    "x":{"datum":207.7,"type":"quantitative","title":null,"axis":{"orient":"top","values":[0,10,20,30,40,50,60,70,80,90,100,110,120,130,140,150,160,170,180,190,200,210],"tickSize":-4,"labels":false}},
    "y":{"datum":0.39,"type":"quantitative","title":null,"axis":{"orient":"right","values":[-0.75,-0.5,-0.25,0,0.25,0.5,0.75],"tickSize":-4,"labels":false}},
    "text":{"field":"station"}}}
 ],
 "resolve":{"axis":{"x":"independent","y":"independent"}}},
{"width":526,"height":81,
 "layer":[
  {"mark":{"type":"line","stroke":"#ff0000","strokeWidth":0.8,"clip":false},
   "encoding":{
    "x":{"field":"t","type":"quantitative","title":null,"scale":{"domain":[0,213.2],"nice":false,"zero":false},"axis":{"orient":"bottom","values":[0,50,100,150,200],"tickSize":-8,"labels":true,"labelPadding":11,"format":"d","minExtent":30,"maxExtent":30}},
    "y":{"field":"SCNE","type":"quantitative","title":null,"scale":{"domain":[-1.22,1.31],"nice":false,"zero":false},"axis":{"orient":"left","values":[-1,-0.5,0,0.5,1],"tickSize":-8,"format":".1f","labelPadding":9.5,"minExtent":37,"maxExtent":37}}}},
  {"data":{"name":"picks"},"mark":{"type":"rule","stroke":"#8c8c8c","strokeWidth":1},
   "encoding":{
    "x":{"field":"t","type":"quantitative","title":null,"axis":{"orient":"bottom","values":[0,10,20,30,40,50,60,70,80,90,100,110,120,130,140,150,160,170,180,190,200,210],"tickSize":-4,"labels":false}},
    "y":{"datum":1.21,"type":"quantitative","title":null,"axis":{"orient":"left","values":[-1,-0.75,-0.5,-0.25,0,0.25,0.5,0.75,1,1.25],"tickSize":-4,"labels":false}},
    "y2":{"datum":-1.08}}},
  {"data":{"name":"picks"},"mark":{"type":"text","align":"left","baseline":"middle","dx":4},
   "encoding":{
    "x":{"field":"t","type":"quantitative","title":null,"axis":{"orient":"top","values":[0,50,100,150,200],"tickSize":-8,"labels":false}},
    "y":{"datum":-0.77,"type":"quantitative","title":null,"axis":{"orient":"right","values":[-1,-0.5,0,0.5,1],"tickSize":-8,"labels":false,"minExtent":17,"maxExtent":17}},
    "text":{"field":"phase"}}},
  {"data":{"values":[{"station":"SCNE"}]},"mark":{"type":"text","align":"right","baseline":"middle"},
   "encoding":{
    "x":{"datum":207.7,"type":"quantitative","title":null,"axis":{"orient":"top","values":[0,10,20,30,40,50,60,70,80,90,100,110,120,130,140,150,160,170,180,190,200,210],"tickSize":-4,"labels":false}},
    "y":{"datum":0.69,"type":"quantitative","title":null,"axis":{"orient":"right","values":[-1,-0.75,-0.5,-0.25,0,0.25,0.5,0.75,1,1.25],"tickSize":-4,"labels":false}},
    "text":{"field":"station"}}}
 ],
 "resolve":{"axis":{"x":"independent","y":"independent"}}}
],
"config":{
 "view":{"stroke":"#8c8c8c","strokeWidth":1},
 "concat":{"spacing":0},
 "axis":{"domain":false,"grid":false,"tickColor":"#8c8c8c","tickWidth":1,"labelColor":"#808080","labelFont":"DejaVu Sans Condensed, sans-serif","labelFontSize":12,"labelFlush":false,"labelOverlap":false},
 "text":{"font":"DejaVu Sans Condensed, sans-serif","fontSize":11.5,"color":"#808080"}
}
}
